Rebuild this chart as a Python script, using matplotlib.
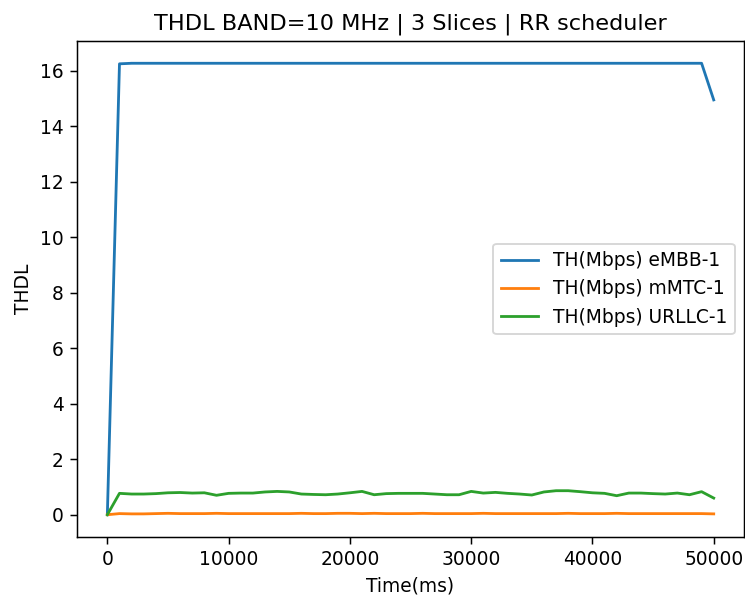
import numpy as np
import matplotlib.pyplot as plt

# tiempo en ms, una muestra cada 1000 ms
time_ms = np.arange(0, 51000, 1000)

th_embb = [0.0, 16.25] + [16.27] * 48 + [14.95]
th_mmtc = [0.0, 0.04, 0.03, 0.03, 0.04, 0.05, 0.04, 0.04, 0.04, 0.05,
           0.04, 0.04, 0.04, 0.04, 0.04, 0.04, 0.05, 0.04, 0.04, 0.05,
           0.05, 0.04, 0.05, 0.04, 0.04, 0.04, 0.05, 0.04, 0.04, 0.04,
           0.04, 0.05, 0.04, 0.04, 0.04, 0.04, 0.04, 0.04, 0.05, 0.04,
           0.04, 0.04, 0.05, 0.04, 0.04, 0.04, 0.04, 0.04, 0.04, 0.04,
           0.03]
th_urllc = [0.0, 0.77, 0.745, 0.745, 0.76, 0.79, 0.80, 0.78, 0.79, 0.70,
            0.77, 0.78, 0.78, 0.82, 0.84, 0.82, 0.745, 0.73, 0.72, 0.745,
            0.79, 0.84, 0.72, 0.76, 0.77, 0.77, 0.77, 0.745, 0.72, 0.72,
            0.84, 0.78, 0.805, 0.77, 0.745, 0.71, 0.82, 0.865, 0.865, 0.83,
            0.79, 0.77, 0.685, 0.78, 0.78, 0.76, 0.745, 0.78, 0.72, 0.83,
            0.60]

dpi = 134.4
fig = plt.figure(figsize=(745 / dpi, 595 / dpi), dpi=dpi)
plt.plot(time_ms, th_embb, label='TH(Mbps) eMBB-1')
plt.plot(time_ms, th_mmtc, label='TH(Mbps) mMTC-1')
plt.plot(time_ms, th_urllc, label='TH(Mbps) URLLC-1')
plt.title('THDL BAND=10 MHz | 3 Slices | RR scheduler')
plt.xlabel('Time(ms)')
plt.ylabel('THDL')
plt.legend(loc='center right')
plt.subplots_adjust(left=0.1034, right=0.9987, top=0.9316, bottom=0.097)
plt.savefig('out.png', dpi=dpi)
